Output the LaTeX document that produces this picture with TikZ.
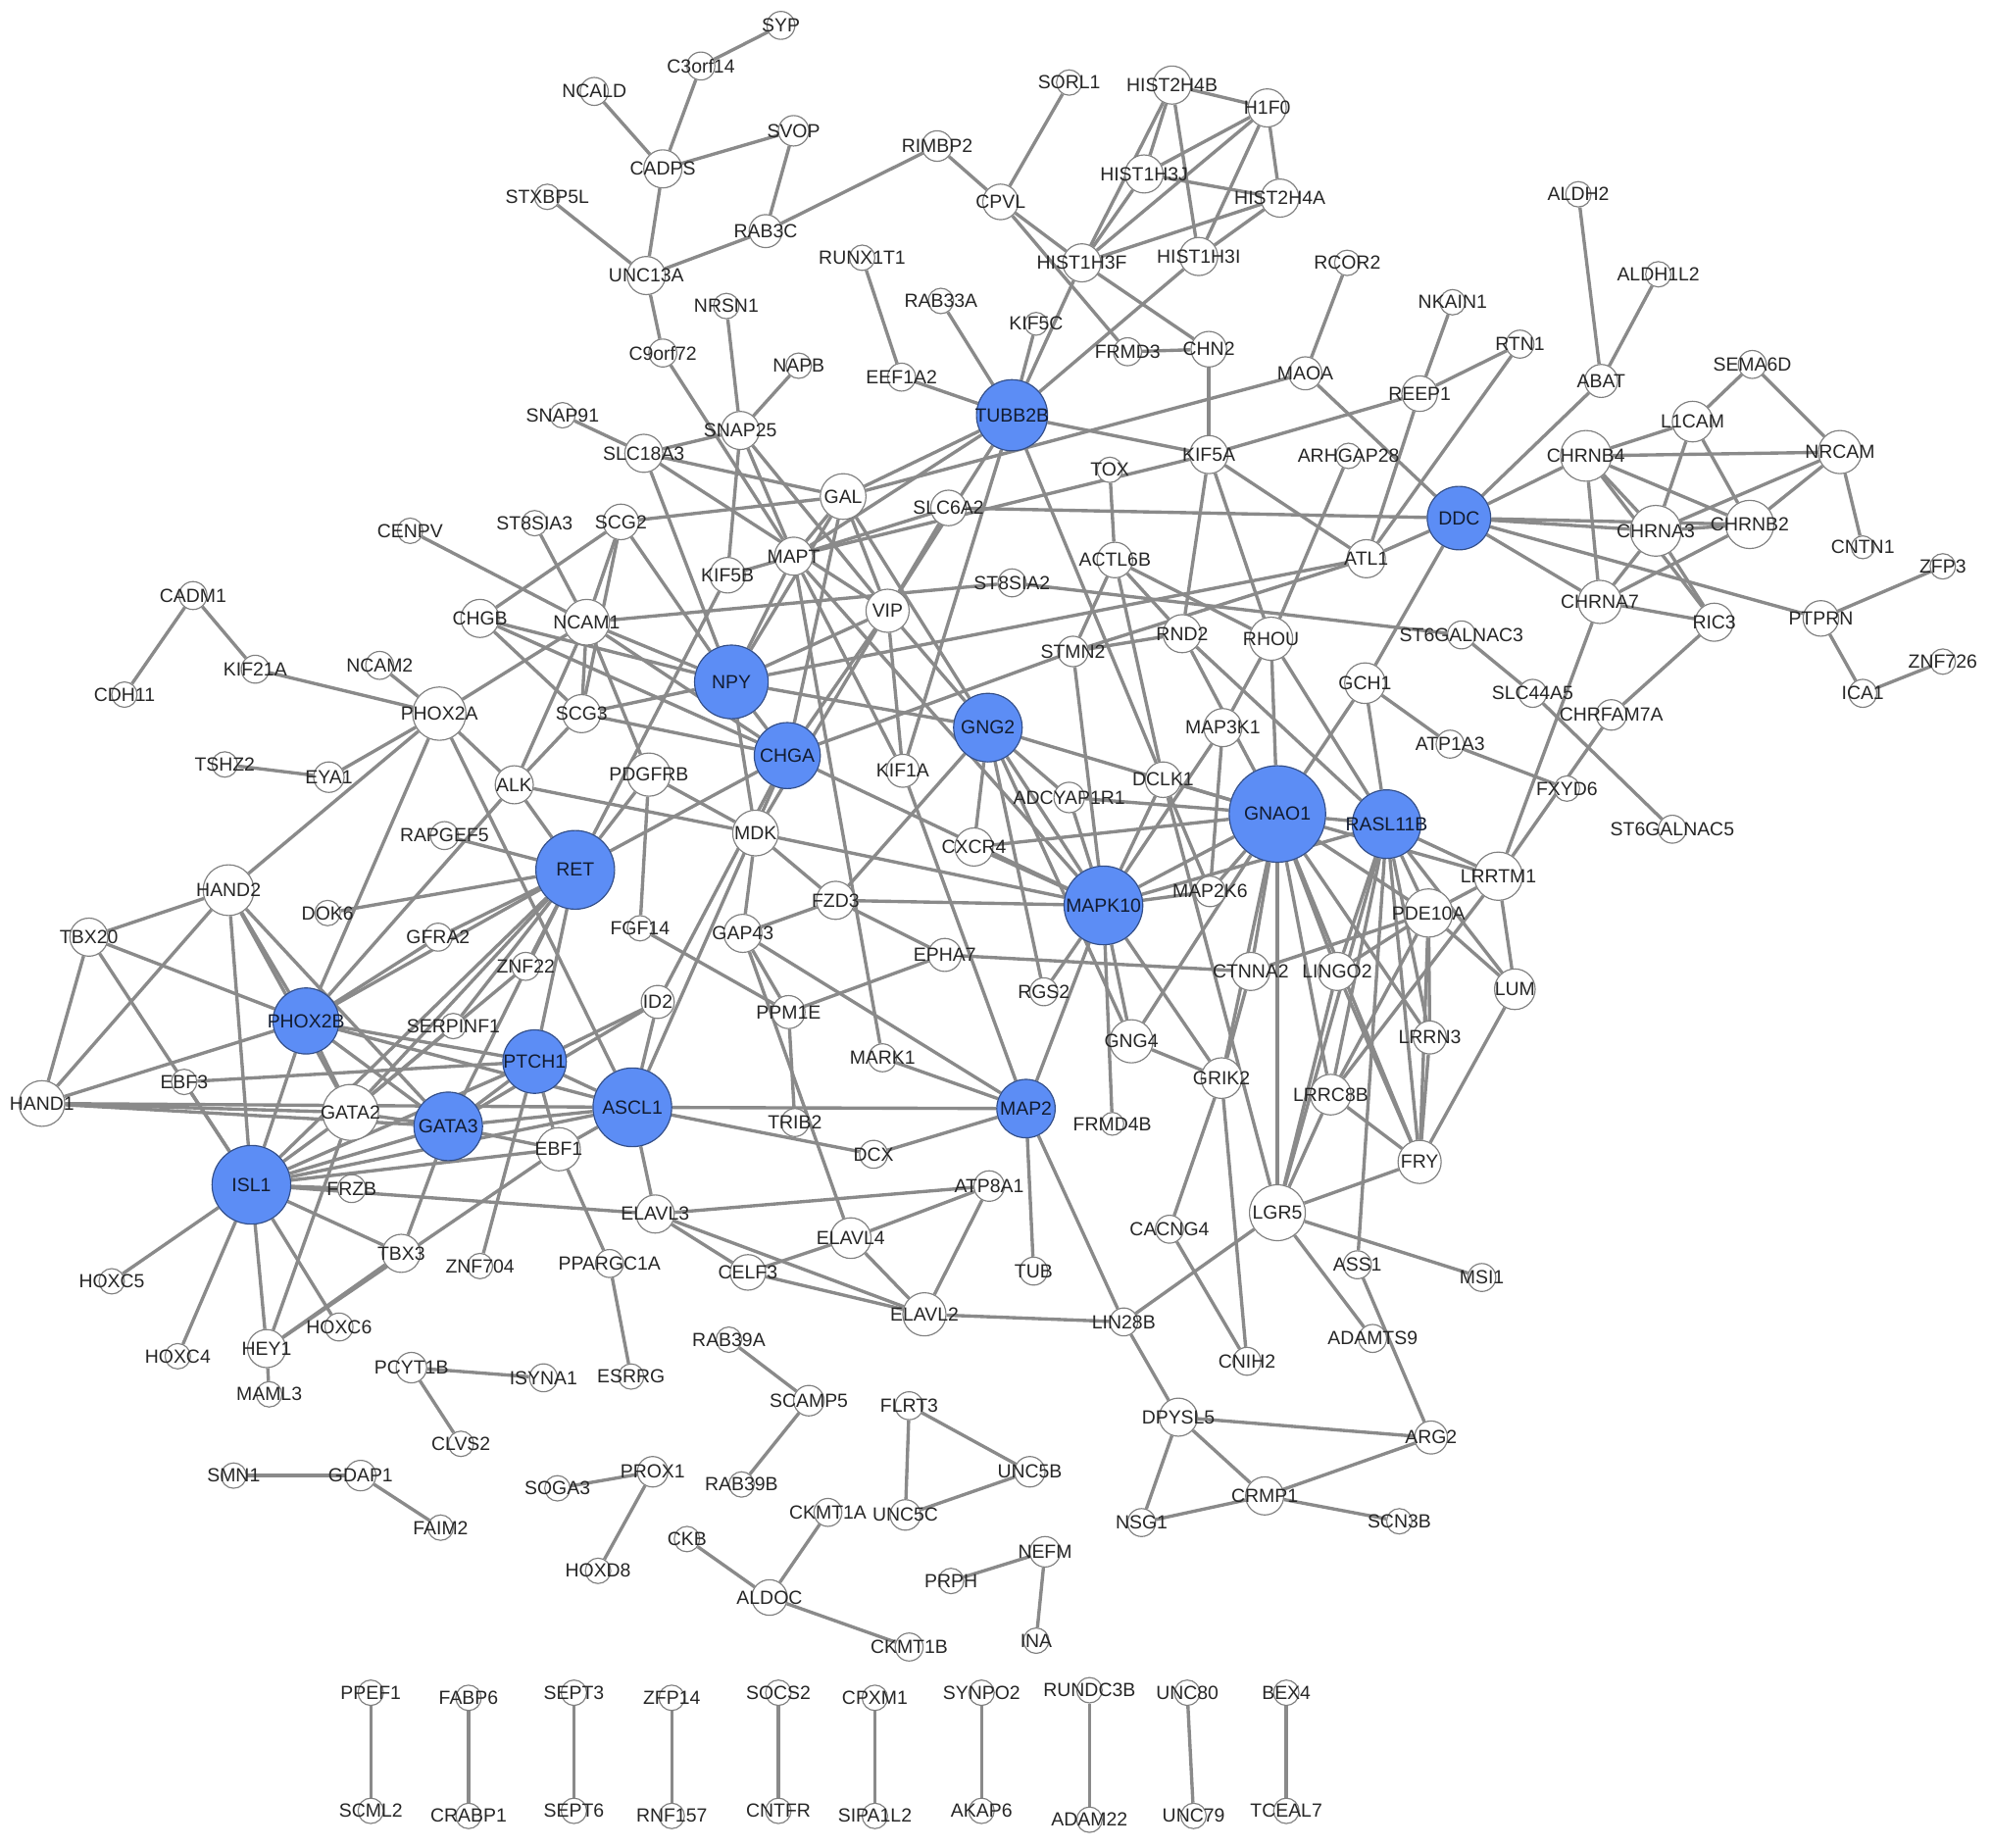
\documentclass[tikz,border=0pt]{standalone}
\usepackage{fontspec}
\setmainfont{Liberation Sans}
\usepackage{xcolor}
\usepackage{tikz}
\usetikzlibrary{backgrounds}
\pgfdeclarelayer{labels}
\pgfsetlayers{background,main,labels}
\definecolor{hubblue}{RGB}{92,141,245}
\definecolor{linkgray}{RGB}{138,138,138}
\definecolor{rimgray}{RGB}{128,128,128}
\newcommand{\gene}[4][22]{\node[gene=#1] (#2) at (#3,#4) {};
  \begin{pgfonlayer}{labels}\node[genetext] at (#2) {#2};\end{pgfonlayer}}
\newcommand{\hub}[4][56]{\node[hub=#1] (#2) at (#3,#4) {};
  \begin{pgfonlayer}{labels}\node[hubtext] at (#2) {#2};\end{pgfonlayer}}

\begin{document}
\begin{tikzpicture}[
    x=1pt, y=-1pt,
    gene/.style={circle, draw=rimgray, line width=0.9pt, fill=white, minimum size=#1, inner sep=0pt},
    gene/.default=22,
    hub/.style={gene=#1, fill=hubblue, draw=hubblue!55!black},
    genetext/.style={font=\fontsize{15}{15}\selectfont, text=black!85, inner sep=0pt},
    hubtext/.style={genetext, text=hubblue!20!black},
    link/.style={draw=linkgray, line width=2.6pt}
]
\useasboundingbox (0,0) rectangle (1568,1455);

% synaptic vesicle genes, top left
\gene{SYP}{615}{20}
\gene{C3orf14}{552}{52}
\gene{NCALD}{468}{72}
\gene[24]{SVOP}{625}{103}
\gene[30]{CADPS}{522}{133}
\gene[24]{RIMBP2}{738}{115}
\gene[20]{STXBP5L}{431}{155}
\gene[26]{RAB3C}{603}{182}
\gene[30]{UNC13A}{509}{217}
\gene{C9orf72}{522}{278}
\gene[20]{NRSN1}{572}{241}
\gene[20]{NAPB}{629}{288}
\gene[30]{SNAP25}{583}{339}
\gene[20]{SNAP91}{443}{327}
\gene[30]{SLC18A3}{507}{357}
\gene[20]{RUNX1T1}{679}{203}
\gene[20]{RAB33A}{741}{237}
\gene{EEF1A2}{710}{297}
\gene[18]{KIF5C}{816}{255}
\hub[56]{TUBB2B}{797}{327}

% histones, top middle
\gene[20]{SORL1}{842}{65}
\gene[28]{CPVL}{788}{159}
\gene[30]{HIST2H4B}{923}{67}
\gene[30]{H1F0}{998}{85}
\gene[30]{HIST1H3J}{901}{137}
\gene[30]{HIST2H4A}{1008}{156}
\gene[30]{HIST1H3F}{852}{207}
\gene[30]{HIST1H3I}{944}{202}
\gene{FRMD3}{888}{277}
\gene[28]{CHN2}{952}{275}
\gene[20]{RCOR2}{1061}{207}
\gene[26]{MAOA}{1028}{294}
\gene[20]{NKAIN1}{1144}{238}
\gene{RTN1}{1197}{271}
\gene[20]{ALDH2}{1243}{153}
\gene[20]{ALDH1L2}{1306}{216}
\gene[26]{ABAT}{1261}{300}
\gene[28]{REEP1}{1118}{310}

% nicotinic receptors, right
\gene{SEMA6D}{1380}{287}
\gene[32]{L1CAM}{1333}{332}
\gene[40]{CHRNB4}{1249}{359}
\gene[34]{NRCAM}{1449}{356}
\gene[40]{CHRNA3}{1304}{418}
\gene[38]{CHRNB2}{1378}{413}
\gene[18]{CNTN1}{1467}{431}
\gene[20]{ZFP3}{1530}{446}
\gene[34]{CHRNA7}{1260}{474}
\gene[30]{RIC3}{1350}{490}
\gene[28]{PTPRN}{1434}{487}
\gene[20]{ZNF726}{1530}{521}
\gene{ICA1}{1467}{546}
\gene{SLC44A5}{1207}{546}
\gene[24]{CHRFAM7A}{1269}{563}
\gene[20]{FXYD6}{1234}{621}
\gene{ST6GALNAC5}{1317}{653}
\gene{ST6GALNAC3}{1151}{500}
\gene{ATP1A3}{1142}{586}
\hub[50]{DDC}{1149}{408}

% centre
\gene[20]{ARHGAP28}{1062}{359}
\gene[30]{KIF5A}{952}{358}
\gene[20]{TOX}{874}{370}
\gene[36]{GAL}{664}{391}
\gene[28]{SLC6A2}{747}{400}
\gene[30]{ATL1}{1076}{440}
\gene[28]{ACTL6B}{878}{441}
\gene[30]{MAPT}{625}{438}
\gene[28]{KIF5B}{573}{453}
\gene[28]{SCG2}{489}{411}
\gene[20]{ST8SIA3}{421}{412}
\gene[20]{CENPV}{323}{418}
\gene[30]{CHGB}{378}{487}
\gene[36]{NCAM1}{462}{490}
\gene[34]{VIP}{699}{481}
\gene{ST8SIA2}{797}{459}
\gene[34]{RHOU}{1001}{503}
\gene[30]{RND2}{931}{499}
\gene[24]{STMN2}{845}{513}
\hub[58]{NPY}{576}{537}
\gene[30]{SCG3}{458}{562}
\gene[32]{GCH1}{1075}{538}
\hub[54]{GNG2}{778}{573}
\gene[30]{MAP3K1}{963}{573}
\hub[52]{CHGA}{620}{595}
\gene[30]{ALK}{405}{618}
\gene[34]{PDGFRB}{511}{610}
\gene[26]{KIF1A}{711}{607}
\gene[24]{ADCYAP1R1}{842}{628}
\gene[28]{DCLK1}{916}{614}
\hub[76]{GNAO1}{1006}{641}
\hub[54]{RASL11B}{1092}{649}
\gene[36]{MDK}{595}{656}
\gene[30]{CXCR4}{767}{667}
\gene[20]{FGF14}{504}{731}
\gene[30]{FZD3}{658}{709}
\hub[62]{MAPK10}{869}{713}
\gene[24]{MAP2K6}{953}{702}
\gene[38]{LRRTM1}{1180}{690}
\gene[38]{PDE10A}{1125}{719}
\gene[30]{GAP43}{585}{735}
\gene[26]{EPHA7}{744}{752}
\gene[30]{CTNNA2}{985}{765}
\gene[30]{LINGO2}{1053}{765}
\gene[32]{LUM}{1193}{779}
\gene{RGS2}{822}{781}
\gene[26]{ID2}{518}{789}
\gene[26]{PPM1E}{621}{797}
\gene[26]{LRRN3}{1126}{817}
\gene[34]{GNG4}{891}{820}
\gene{MARK1}{695}{833}
\gene[32]{GRIK2}{962}{849}
\gene[32]{LRRC8B}{1048}{862}
\hub[62]{ASCL1}{498}{872}
\hub[46]{MAP2}{808}{873}
\gene[18]{FRMD4B}{876}{885}
\gene{TRIB2}{626}{884}
\gene{DCX}{688}{909}
\gene[34]{FRY}{1118}{915}
\gene[24]{ATP8A1}{779}{934}
\gene[30]{ELAVL3}{516}{956}
\gene[44]{LGR5}{1006}{955}
\gene{CACNG4}{921}{968}
\gene[32]{ELAVL4}{670}{975}
\gene{TUB}{814}{1001}
\gene{ASS1}{1069}{996}
\gene{MSI1}{1167}{1006}
\gene{PPARGC1A}{480}{995}
\gene[28]{CELF3}{589}{1002}
\gene[34]{ELAVL2}{728}{1035}
\gene{LIN28B}{885}{1041}
\gene{CNIH2}{982}{1072}
\gene{ADAMTS9}{1081}{1054}

% neural crest factors, left
\gene{CADM1}{152}{469}
\gene{KIF21A}{201}{527}
\gene{NCAM2}{299}{524}
\gene[20]{CDH11}{98}{547}
\gene[42]{PHOX2A}{346}{562}
\gene[20]{TSHZ2}{177}{602}
\gene[24]{EYA1}{259}{612}
\gene{RAPGEF5}{350}{658}
\hub[62]{RET}{453}{685}
\gene[40]{HAND2}{180}{701}
\gene[20]{DOK6}{258}{719}
\gene[30]{TBX20}{70}{738}
\gene{GFRA2}{345}{738}
\gene{ZNF22}{414}{761}
\hub[52]{PHOX2B}{241}{804}
\gene[20]{SERPINF1}{357}{808}
\hub[50]{PTCH1}{421}{836}
\gene[20]{EBF3}{145}{852}
\gene[36]{HAND1}{33}{869}
\gene[44]{GATA2}{276}{876}
\hub[54]{GATA3}{353}{887}
\gene[34]{EBF1}{440}{905}
\hub[62]{ISL1}{198}{933}
\gene{FRZB}{277}{936}
\gene[30]{TBX3}{316}{987}
\gene[20]{ZNF704}{378}{997}
\gene[20]{HOXC5}{88}{1009}
\gene{HOXC6}{267}{1045}
\gene[30]{HEY1}{210}{1062}
\gene[20]{HOXC4}{140}{1068}
\gene[20]{MAML3}{212}{1098}

% small components
\gene[20]{RAB39A}{574}{1055}
\gene[24]{PCYT1B}{324}{1077}
\gene{ISYNA1}{428}{1085}
\gene[20]{ESRRG}{497}{1084}
\gene[24]{SCAMP5}{637}{1103}
\gene{FLRT3}{716}{1107}
\gene[30]{DPYSL5}{928}{1116}
\gene[26]{ARG2}{1127}{1132}
\gene[20]{CLVS2}{363}{1137}
\gene[24]{UNC5B}{811}{1159}
\gene[20]{RAB39B}{584}{1169}
\gene[20]{SMN1}{184}{1162}
\gene[24]{GDAP1}{284}{1162}
\gene[20]{SOGA3}{439}{1172}
\gene[24]{PROX1}{514}{1159}
\gene{CKMT1A}{652}{1191}
\gene[24]{UNC5C}{713}{1193}
\gene[30]{CRMP1}{996}{1178}
\gene{NSG1}{899}{1199}
\gene[20]{SCN3B}{1102}{1198}
\gene[20]{FAIM2}{347}{1203}
\gene[20]{CKB}{541}{1212}
\gene[24]{NEFM}{823}{1222}
\gene[20]{HOXD8}{471}{1237}
\gene[20]{PRPH}{749}{1245}
\gene[28]{ALDOC}{606}{1258}
\gene[20]{INA}{816}{1292}
\gene{CKMT1B}{716}{1297}

% pairs along the bottom
\gene[20]{PPEF1}{292}{1333}   \gene[20]{SCML2}{292}{1426}
\gene[20]{FABP6}{369}{1337}   \gene[20]{CRABP1}{369}{1430}
\gene[20]{SEPT3}{452}{1333}   \gene[20]{SEPT6}{452}{1426}
\gene[20]{ZFP14}{529}{1337}   \gene[20]{RNF157}{529}{1430}
\gene[20]{SOCS2}{613}{1333}   \gene[20]{CNTFR}{613}{1426}
\gene[20]{CPXM1}{689}{1337}   \gene[20]{SIPA1L2}{689}{1430}
\gene[20]{SYNPO2}{773}{1333}  \gene[20]{AKAP6}{773}{1426}
\gene[20]{RUNDC3B}{858}{1331} \gene[20]{ADAM22}{858}{1433}
\gene[20]{UNC80}{935}{1333}   \gene[20]{UNC79}{940}{1430}
\gene[20]{BEX4}{1013}{1333}   \gene[20]{TCEAL7}{1013}{1426}

\begin{scope}[on background layer]
\foreach \a/\b in {SYP/C3orf14, C3orf14/CADPS, NCALD/CADPS, CADPS/SVOP, SVOP/RAB3C,
    CADPS/UNC13A, STXBP5L/UNC13A, UNC13A/RAB3C, RAB3C/RIMBP2, RIMBP2/CPVL,
    UNC13A/C9orf72, C9orf72/MAPT, NRSN1/SNAP25, NAPB/SNAP25, SNAP91/SLC18A3,
    SLC18A3/SNAP25, SNAP25/KIF5B, SNAP25/VIP, SNAP25/MAPT, SLC18A3/GAL,
    SLC18A3/NPY, SLC18A3/VIP,
    RUNX1T1/EEF1A2, EEF1A2/TUBB2B, RAB33A/TUBB2B, KIF5C/TUBB2B, HIST1H3F/TUBB2B,
    HIST1H3I/TUBB2B, TUBB2B/KIF5A, TUBB2B/GAL, TUBB2B/VIP, TUBB2B/KIF1A,
    TUBB2B/DCLK1, TUBB2B/MAPT,
    SORL1/CPVL, HIST2H4B/H1F0, HIST2H4B/HIST1H3J, HIST2H4B/HIST1H3F,
    HIST2H4B/HIST1H3I, H1F0/HIST1H3J, H1F0/HIST1H3F, H1F0/HIST2H4A, H1F0/HIST1H3I,
    HIST1H3J/HIST2H4A, HIST1H3J/HIST1H3F, HIST2H4A/HIST1H3F, HIST2H4A/HIST1H3I,
    CPVL/HIST1H3F, CPVL/FRMD3, HIST1H3F/CHN2, FRMD3/CHN2, CHN2/KIF5A,
    KIF5A/RND2, KIF5A/RHOU, KIF5A/ATL1, KIF5A/REEP1, REEP1/RTN1, REEP1/NKAIN1,
    REEP1/ATL1, RTN1/ATL1, MAOA/RCOR2, GAL/MAOA, MAOA/DDC, MAPT/KIF5A,
    KIF5B/MAPT, TOX/ACTL6B, ABAT/ALDH2, ABAT/ALDH1L2, ABAT/DDC, ARHGAP28/RHOU,
    SLC6A2/DDC, DDC/ATL1, DDC/GCH1, DDC/CHRNB4, DDC/CHRNA3, DDC/CHRNB2,
    DDC/PTPRN, DDC/CHRNA7, SEMA6D/L1CAM, SEMA6D/NRCAM, NRCAM/CNTN1,
    L1CAM/CHRNB4, CHRNB4/NRCAM, L1CAM/CHRNA3, L1CAM/CHRNB2, NRCAM/CHRNA3,
    NRCAM/CHRNB2, CHRNB4/CHRNA3, CHRNB4/CHRNB2, CHRNB4/CHRNA7, CHRNB4/RIC3,
    CHRNA3/CHRNB2, CHRNA3/CHRNA7, CHRNA3/RIC3, CHRNB2/CHRNA7, CHRNA7/RIC3,
    RIC3/CHRFAM7A, PTPRN/ZFP3, PTPRN/ICA1, ICA1/ZNF726, CHRNA7/LRRTM1,
    CHRFAM7A/LRRTM1, ATP1A3/FXYD6, GCH1/ATP1A3, ST8SIA2/ST6GALNAC3,
    ST6GALNAC3/SLC44A5, SLC44A5/ST6GALNAC5, SLC6A2/VIP, SLC6A2/MAPT,
    NCAM1/CENPV, NCAM1/ST8SIA3, NCAM1/SCG2, NCAM1/ST8SIA2, NCAM1/SCG3,
    NCAM1/ALK, NCAM1/PHOX2A, NCAM1/NPY, NCAM1/CHGA, NCAM1/PDGFRB,
    CHGB/SCG2, CHGB/NPY, CHGB/CHGA, CHGB/SCG3, SCG2/GAL, SCG2/NPY, SCG2/SCG3,
    SCG3/NPY, SCG3/CHGA, SCG3/ALK, NPY/GAL, NPY/VIP, NPY/CHGA, NPY/GNG2,
    NPY/MDK, NPY/MAPT, NPY/ATL1, KIF5B/RET, GAL/CHGA, GAL/GNG2, GAL/VIP,
    GAL/MAPT, VIP/CHGA, VIP/KIF1A, VIP/GNG2, VIP/MDK,
    CHGA/STMN2, STMN2/ATL1, STMN2/ACTL6B, STMN2/RND2, STMN2/MAPK10,
    ACTL6B/RND2, ACTL6B/RHOU, ACTL6B/DCLK1, CHGA/ASCL1, CHGA/ID2,
    CHGA/MAPK10, CHGA/RET, MDK/ALK, MDK/PDGFRB, MDK/GAP43, MDK/MAPK10,
    MDK/FZD3, PDGFRB/FGF14, PDGFRB/RET, GNG2/FZD3, GNG2/CXCR4,
    GNG2/ADCYAP1R1, GNG2/MAPK10, GNG2/GNAO1, GNG2/GNG4, GNG2/RGS2,
    KIF1A/MAPT, KIF1A/MAP2, MAPT/MAPK10, MAPT/MARK1, FZD3/MAPK10, FZD3/GAP43,
    FZD3/EPHA7, CXCR4/GNAO1, CXCR4/MAPK10, ADCYAP1R1/GNAO1, ADCYAP1R1/MAPK10,
    DCLK1/GNAO1, DCLK1/MAPK10, DCLK1/MAP2K6, DCLK1/LGR5, MAP3K1/MAPK10,
    MAP3K1/RHOU, MAP3K1/MAP2K6,
    GNAO1/RHOU, GNAO1/RND2, GNAO1/GCH1, GNAO1/RASL11B, GNAO1/MAPK10,
    GNAO1/MAP2K6, GNAO1/CTNNA2, GNAO1/LINGO2, GNAO1/LRRC8B, GNAO1/LGR5,
    GNAO1/PDE10A, GNAO1/LRRTM1, GNAO1/GNG4, GNAO1/GRIK2, GNAO1/FRY,
    GNAO1/LRRN3,
    RASL11B/RHOU, RASL11B/RND2, RASL11B/GCH1, RASL11B/PDE10A, RASL11B/LRRTM1,
    RASL11B/LUM, RASL11B/FRY, RASL11B/LRRN3, RASL11B/LRRC8B, RASL11B/LINGO2,
    RASL11B/LGR5, RASL11B/ASS1, RASL11B/MAPK10,
    PDE10A/LRRTM1, PDE10A/LUM, PDE10A/LRRN3, PDE10A/FRY, PDE10A/LRRC8B,
    PDE10A/CTNNA2, PDE10A/LINGO2, LRRTM1/LUM, LRRTM1/LRRC8B, LUM/FRY,
    LRRN3/FRY, FRY/LGR5, FRY/LRRC8B, FRY/LINGO2, LGR5/LINGO2, LGR5/LRRC8B,
    LGR5/MSI1, LGR5/ADAMTS9, LGR5/LIN28B, ASS1/ARG2, CTNNA2/EPHA7,
    CTNNA2/GRIK2, GNG4/MAPK10, GNG4/GRIK2, GRIK2/CACNG4, GRIK2/CNIH2,
    GRIK2/MAPK10, CACNG4/CNIH2,
    MAPK10/MAP2K6, MAPK10/MAP2, MAPK10/RGS2, MAPK10/FRMD4B,
    MAP2/ASCL1, MAP2/DCX, MAP2/MARK1, MAP2/GAP43, MAP2/TUB, MAP2/LIN28B,
    LIN28B/ELAVL2, LIN28B/DPYSL5, DPYSL5/ARG2, DPYSL5/NSG1, DPYSL5/CRMP1,
    CRMP1/NSG1, CRMP1/SCN3B, CRMP1/ARG2,
    EPHA7/PPM1E, GAP43/PPM1E, GAP43/ELAVL4, FGF14/PPM1E, PPM1E/TRIB2,
    ASCL1/DCX, ASCL1/ELAVL3, ASCL1/ID2, ASCL1/PTCH1, ASCL1/GATA3, ASCL1/EBF1,
    ASCL1/ISL1, ASCL1/HAND1, ASCL1/PHOX2A, ASCL1/PHOX2B,
    ELAVL3/ISL1, ELAVL3/ATP8A1, ELAVL3/CELF3, ELAVL3/ELAVL2,
    ELAVL4/ATP8A1, ELAVL4/CELF3, ELAVL4/ELAVL2, ELAVL2/CELF3, ELAVL2/ATP8A1,
    PPARGC1A/ESRRG, PPARGC1A/EBF1, ID2/PTCH1, ID2/GATA3,
    EBF1/PTCH1, EBF1/GATA3, EBF1/ISL1, PTCH1/EBF3, PTCH1/PHOX2B, PTCH1/ISL1,
    PTCH1/GATA3, PTCH1/ZNF704, PTCH1/RET,
    GATA3/HAND1, GATA3/GATA2, GATA3/ISL1, GATA3/PHOX2B, GATA3/HAND2,
    GATA3/TBX3, GATA3/RET, GATA2/HAND1, GATA2/HAND2, GATA2/PHOX2B,
    GATA2/ISL1, GATA2/HEY1, GATA2/RET, GATA2/SERPINF1,
    ISL1/HAND2, ISL1/PHOX2B, ISL1/EBF3, ISL1/FRZB, ISL1/TBX3, ISL1/HOXC6,
    ISL1/HEY1, ISL1/HOXC4, ISL1/HOXC5, ISL1/TBX20, ISL1/RET,
    PHOX2B/TBX20, PHOX2B/HAND2, PHOX2B/HAND1, PHOX2B/GFRA2, PHOX2B/RET,
    PHOX2B/PHOX2A, PHOX2B/ALK, HAND2/TBX20, HAND2/PHOX2A, HAND2/HAND1,
    TBX20/HAND1, HEY1/MAML3, HEY1/TBX3, HEY1/EBF1,
    RET/GFRA2, RET/DOK6, RET/RAPGEF5, RET/ALK, RET/ZNF22, RET/SERPINF1,
    ZNF22/GATA2, PHOX2A/ALK, CADM1/CDH11, CADM1/KIF21A, KIF21A/PHOX2A,
    NCAM2/PHOX2A, TSHZ2/EYA1, EYA1/PHOX2A,
    RAB39A/SCAMP5, SCAMP5/RAB39B, FLRT3/UNC5B, FLRT3/UNC5C, UNC5C/UNC5B,
    PCYT1B/ISYNA1, PCYT1B/CLVS2, SMN1/GDAP1, GDAP1/FAIM2, SOGA3/PROX1,
    PROX1/HOXD8, CKB/ALDOC, CKMT1A/ALDOC, ALDOC/CKMT1B, PRPH/NEFM, NEFM/INA,
    PPEF1/SCML2, FABP6/CRABP1, SEPT3/SEPT6, ZFP14/RNF157, SOCS2/CNTFR,
    CPXM1/SIPA1L2, SYNPO2/AKAP6, RUNDC3B/ADAM22, UNC80/UNC79, BEX4/TCEAL7}
  \draw[link] (\a) -- (\b);
\end{scope}

\end{tikzpicture}
\end{document}
